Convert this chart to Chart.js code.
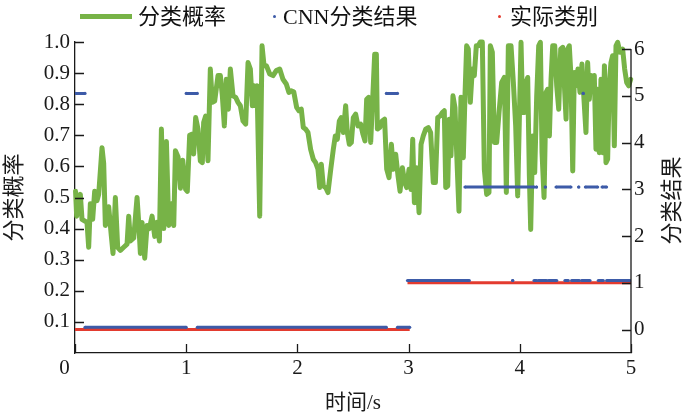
<!DOCTYPE html>
<html>
<head>
<meta charset="utf-8">
<script src="https://cdn.jsdelivr.net/npm/chart.js@4.4.1/dist/chart.umd.min.js"></script>
<style>
  html, body { margin: 0; padding: 0; background: #fff; }
  #wrap { position: relative; width: 687px; height: 416px; }
  #legend { position: absolute; left: 0; top: 0; width: 687px; height: 36px;
            font-family: 'Liberation Serif', 'Noto Sans CJK SC', serif; font-size: 22px; color: #111; }
  #legend span { position: absolute; white-space: nowrap; }
</style>
</head>
<body>
<div id="wrap">
  <canvas id="c" width="687" height="416"></canvas>
  <div id="legend"></div>
</div>
<script>
// 分类概率 (left axis)
const probTime = [
  0.005,0.015,0.048,0.063,0.108,0.123,0.138,0.159,0.177,0.198,
  0.213,0.243,0.258,0.273,0.303,0.327,0.342,0.363,0.384,0.408,
  0.438,0.468,0.483,0.498,0.528,0.558,0.573,0.588,0.603,0.627,
  0.648,0.669,0.693,0.717,0.738,0.759,0.777,0.798,0.822,0.843,
  0.867,0.888,0.903,0.927,0.948,0.969,0.995,1.010,1.031,1.055,
  1.067,1.085,1.106,1.127,1.145,1.157,1.175,1.196,1.217,1.235,
  1.256,1.286,1.307,1.325,1.343,1.361,1.379,1.397,1.421,1.445,
  1.466,1.487,1.511,1.535,1.556,1.577,1.595,1.610,1.625,1.637,
  1.661,1.682,1.700,1.721,1.751,1.781,1.810,1.841,1.870,1.900,
  1.924,1.945,1.967,1.993,2.014,2.035,2.053,2.074,2.095,2.119,
  2.143,2.164,2.185,2.200,2.215,2.233,2.254,2.275,2.300,2.323,
  2.341,2.359,2.377,2.395,2.413,2.434,2.449,2.467,2.485,2.503,
  2.524,2.545,2.569,2.590,2.608,2.623,2.641,2.659,2.677,2.695,
  2.710,2.719,2.740,2.763,2.784,2.803,2.824,2.845,2.863,2.884,
  2.905,2.923,2.944,2.965,2.983,3.004,3.022,3.037,3.052,3.073,
  3.094,3.112,3.132,3.154,3.177,3.198,3.222,3.241,3.262,3.283,
  3.303,3.321,3.334,3.352,3.366,3.381,3.399,3.417,3.438,3.453,
  3.471,3.492,3.507,3.522,3.537,3.555,3.573,3.591,3.609,3.627,
  3.645,3.663,3.681,3.702,3.723,3.735,3.753,3.771,3.792,3.813,
  3.837,3.861,3.879,3.897,3.921,3.942,3.963,3.981,4.011,4.026,
  4.041,4.056,4.071,4.086,4.098,4.116,4.134,4.152,4.170,4.185,
  4.200,4.218,4.236,4.251,4.266,4.281,4.296,4.314,4.332,4.350,
  4.368,4.386,4.404,4.416,4.430,4.445,4.460,4.476,4.490,4.505,
  4.523,4.541,4.559,4.577,4.595,4.610,4.625,4.640,4.655,4.670,
  4.685,4.700,4.715,4.730,4.746,4.761,4.775,4.790,4.805,4.820,
  4.835,4.850,4.865,4.880,4.901,4.925,4.943,4.961,4.979,4.997
];
const probValue = [
  0.52,0.44,0.51,0.43,0.42,0.34,0.48,0.43,0.52,0.49,
  0.51,0.66,0.61,0.41,0.47,0.375,0.32,0.50,0.34,0.33,
  0.34,0.35,0.44,0.36,0.37,0.50,0.42,0.32,0.42,0.305,
  0.41,0.40,0.44,0.375,0.42,0.36,0.72,0.40,0.68,0.41,
  0.48,0.41,0.65,0.63,0.53,0.62,0.526,0.52,0.70,0.704,
  0.64,0.757,0.72,0.618,0.612,0.741,0.762,0.618,0.913,0.806,
  0.81,0.892,0.892,0.827,0.73,0.88,0.784,0.913,0.827,0.822,
  0.806,0.795,0.746,0.736,0.934,0.913,0.795,0.859,0.795,0.859,
  0.44,0.988,0.924,0.924,0.897,0.892,0.908,0.913,0.88,0.865,
  0.838,0.843,0.84,0.79,0.779,0.784,0.725,0.72,0.709,0.655,
  0.623,0.612,0.591,0.532,0.607,0.537,0.532,0.516,0.591,0.655,
  0.698,0.687,0.746,0.757,0.709,0.795,0.709,0.671,0.677,0.757,
  0.768,0.73,0.736,0.703,0.682,0.816,0.822,0.677,0.816,0.961,
  0.961,0.72,0.725,0.746,0.752,0.591,0.564,0.671,0.591,0.639,
  0.569,0.52,0.596,0.548,0.532,0.591,0.526,0.687,0.483,0.596,
  0.451,0.671,0.698,0.72,0.725,0.709,0.548,0.548,0.757,0.762,
  0.773,0.779,0.532,0.537,0.752,0.634,0.827,0.789,0.591,0.456,
  0.822,0.628,0.827,0.988,0.977,0.806,0.913,0.892,0.988,0.988,
  1.0,1.0,0.591,0.51,0.516,0.988,0.967,0.677,0.677,0.773,
  0.87,0.886,0.516,0.988,0.988,0.87,0.73,0.505,0.999,0.773,
  0.773,0.87,0.886,0.569,0.397,0.698,0.58,0.827,0.988,0.999,
  0.644,0.50,0.838,0.848,0.698,0.88,0.988,0.988,0.859,0.784,
  0.977,0.983,0.838,0.752,0.977,0.988,0.892,0.585,0.902,0.859,
  0.913,0.838,0.929,0.816,0.709,0.934,0.816,0.892,0.859,0.892,
  0.655,0.848,0.644,0.88,0.644,0.924,0.612,0.623,0.87,0.934,
  0.956,0.666,0.988,0.999,0.967,0.977,0.913,0.87,0.859,0.88
];

// CNN分类结果 (right axis): class held from cnnStart to cnnEnd
const cnnClass = [5, 0, 5, 0, 5, 0,
                  1, 1, 1, 1, 1, 1, 1, 1, 1, 1,
                  3, 3, 3, 3, 3, 3, 3, 5];
const cnnStart = [0.0, 0.09, 1.0, 1.1, 2.8, 2.9,
                  2.99, 3.936, 4.128, 4.167, 4.257, 4.406, 4.466, 4.556, 4.706, 4.781,
                  3.507, 4.15, 4.23, 4.326, 4.53, 4.59, 4.74, 4.57];
const cnnEnd   = [0.09, 1.0, 1.1, 2.8, 2.9, 3.01,
                  3.546, 3.936, 4.152, 4.242, 4.332, 4.436, 4.535, 4.631, 4.751, 4.99,
                  4.13, 4.15, 4.23, 4.46, 4.53, 4.70, 4.78, 4.57];

// 实际类别 (right axis)
const trueClass = [0, 1];
const trueStart = [0.0, 2.99];
const trueEnd   = [3.01, 5.0];

const xTicks = [0, 1, 2, 3, 4, 5];
const probTicks = [0.1, 0.2, 0.3, 0.4, 0.5, 0.6, 0.7, 0.8, 0.9, 1.0];
const classTicks = [0, 1, 2, 3, 4, 5, 6];

const GREEN = '#77b347', BLUE = '#3d5ba8', RED = '#e33b2f', INK = '#1a1a1a';
const FONT = "'Liberation Serif', 'Noto Sans CJK SC', serif";

function runsToPoints(cls, from, to) {
  const pts = [];
  for (let i = 0; i < cls.length; i++) {
    pts.push({x: from[i], y: cls[i]});
    pts.push({x: to[i], y: cls[i]});
    pts.push({x: to[i], y: null});
  }
  return pts;
}

const probPoints = probTime.map((t, i) => ({x: t, y: probValue[i]}));

Chart.defaults.font.family = FONT;
Chart.defaults.color = INK;

// ticks pointing into the plot, right axis line, right axis title
const axisExtras = {
  id: 'axisExtras',
  afterDraw(chart) {
    const {ctx, chartArea: a, scales} = chart;
    const len = 9;
    ctx.save();
    ctx.strokeStyle = INK;
    ctx.lineWidth = 1.3;
    ctx.beginPath();
    xTicks.forEach(v => {
      const px = Math.round(scales.x.getPixelForValue(v)) + 0.5;
      ctx.moveTo(px, a.bottom); ctx.lineTo(px, a.bottom - len);
    });
    probTicks.forEach(v => {
      const py = Math.round(scales.y.getPixelForValue(v)) + 0.5;
      ctx.moveTo(a.left, py); ctx.lineTo(a.left + len, py);
    });
    classTicks.forEach(v => {
      const py = Math.round(scales.y2.getPixelForValue(v)) + 0.5;
      ctx.moveTo(a.right, py); ctx.lineTo(a.right - len, py);
    });
    const topR = Math.round(scales.y2.getPixelForValue(classTicks[classTicks.length - 1]));
    ctx.moveTo(a.right, topR); ctx.lineTo(a.right, a.bottom);
    ctx.stroke();

    ctx.fillStyle = INK;
    ctx.font = '22px ' + FONT;
    ctx.textAlign = 'center';
    ctx.textBaseline = 'middle';
    ctx.translate(673, (a.top + a.bottom) / 2 + 3);
    ctx.rotate(-Math.PI / 2);
    ctx.fillText('分类结果', 0, 0);
    ctx.restore();
  }
};

const chart = new Chart(document.getElementById('c'), {
  type: 'line',
  data: {
    datasets: [
      {
        label: 'CNN分类结果',
        data: runsToPoints(cnnClass, cnnStart, cnnEnd),
        yAxisID: 'yB',
        borderColor: BLUE,
        backgroundColor: BLUE,
        borderWidth: 3,
        pointRadius: 1.6,
        pointBorderWidth: 0,
        spanGaps: false,
        order: 1
      },
      {
        label: '实际类别',
        data: runsToPoints(trueClass, trueStart, trueEnd),
        yAxisID: 'y2',
        borderColor: RED,
        backgroundColor: RED,
        borderWidth: 3,
        pointRadius: 0,
        spanGaps: false,
        order: 2
      },
      {
        label: '分类概率',
        data: probPoints,
        yAxisID: 'y',
        borderColor: GREEN,
        backgroundColor: GREEN,
        borderWidth: 5,
        borderJoinStyle: 'round',
        borderCapStyle: 'round',
        pointRadius: 0,
        tension: 0,
        clip: false,
        order: 3
      }
    ]
  },
  options: {
    responsive: false,
    animation: false,
    devicePixelRatio: 1,
    layout: {padding: {top: 42, left: 0, right: 0, bottom: 0}},
    plugins: {legend: {display: false}, tooltip: {enabled: false}},
    scales: {
      x: {
        type: 'linear', min: 0, max: 5,
        afterFit: s => { s.height = 63; },
        afterBuildTicks: s => { s.ticks = xTicks.map(v => ({value: v})); },
        grid: {drawOnChartArea: false, drawTicks: false},
        border: {color: INK, width: 1.3},
        ticks: {
          font: {size: 21}, color: INK, padding: 3, maxRotation: 0,
          callback: v => v === 0 ? '0    ' : String(v)
        },
        title: {display: true, text: '时间/s', font: {size: 21}, color: INK, padding: {top: 0, bottom: 0}}
      },
      y: {
        position: 'left', min: 0, max: 1.0,
        afterFit: s => { s.width = 75; },
        afterBuildTicks: s => { s.ticks = probTicks.map(v => ({value: v})); },
        grid: {drawOnChartArea: false, drawTicks: false},
        border: {color: INK, width: 1.3},
        ticks: {font: {size: 21}, color: INK, padding: 5, callback: v => v.toFixed(1)},
        title: {display: true, text: '分类概率', font: {size: 22}, color: INK, padding: {top: 2, bottom: 0}}
      },
      y2: {
        position: 'right', min: -0.5, max: 6.15,
        afterFit: s => { s.width = 56; },
        afterBuildTicks: s => { s.ticks = classTicks.map(v => ({value: v})); },
        grid: {drawOnChartArea: false, drawTicks: false},
        border: {display: false},
        ticks: {font: {size: 21}, color: INK, padding: 3, callback: v => String(v)}
      },
      yB: {
        position: 'right', min: -0.55, max: 6.10, display: false
      }
    }
  },
  plugins: [axisExtras]
});

// legend above the plot
const legend = document.getElementById('legend');
const legendItems = [
  {text: '分类概率', color: GREEN, markLeft: 80, markTop: 14, w: 52, h: 5, textLeft: 138},
  {text: 'CNN分类结果', color: BLUE, markLeft: 273, markTop: 15, w: 3, h: 3, textLeft: 283},
  {text: '实际类别', color: RED, markLeft: 498, markTop: 15, w: 3, h: 3, textLeft: 510}
];
legendItems.forEach(it => {
  const m = document.createElement('span');
  m.style.cssText = `left:${it.markLeft}px;top:${it.markTop}px;width:${it.w}px;height:${it.h}px;background:${it.color};border-radius:${it.h < 4 ? '50%' : '0'}`;
  legend.appendChild(m);
  const t = document.createElement('span');
  t.style.cssText = `left:${it.textLeft}px;top:2px;line-height:30px`;
  t.textContent = it.text;
  legend.appendChild(t);
});
</script>
</body>
</html>
